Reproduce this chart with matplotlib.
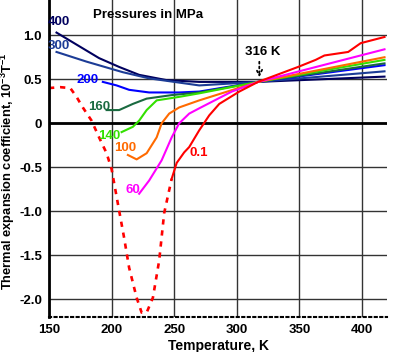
import matplotlib
matplotlib.use("Agg")
import matplotlib.pyplot as plt

plt.rcParams['font.family'] = ['Liberation Sans', 'DejaVu Sans']
plt.rcParams['font.weight'] = 'bold'
plt.rcParams['mathtext.fontset'] = 'custom'
plt.rcParams['mathtext.bf'] = 'Liberation Sans:bold'
plt.rcParams['mathtext.rm'] = 'Liberation Sans:bold'
plt.rcParams['mathtext.default'] = 'bf'

# curves: temperature (K), coefficient (10^-3 T^-1)
t_01_dash = [150, 159, 167, 172, 177, 184, 190, 196, 200, 206, 210, 214, 220, 224, 228,
             233, 238, 242, 248]
a_01_dash = [0.40, 0.41, 0.40, 0.30, 0.18, 0.03, -0.16, -0.34, -0.52, -0.99, -1.30, -1.64,
             -1.98, -2.15, -2.15, -1.98, -1.56, -1.02, -0.63]
t_01 = [248, 252, 258, 262, 270, 278, 286, 302, 317, 349, 363, 370, 389, 399, 418]
a_01 = [-0.63, -0.45, -0.33, -0.27, -0.08, 0.09, 0.22, 0.36, 0.47, 0.64, 0.72, 0.77, 0.81,
        0.91, 0.98]
t_60 = [222, 230, 240, 248, 254, 262, 270, 296, 317, 418]
a_60 = [-0.80, -0.65, -0.42, -0.16, 0.0, 0.11, 0.17, 0.36, 0.47, 0.84]
t_100 = [213, 220, 228, 236, 240, 246, 254, 270, 317, 418]
a_100 = [-0.36, -0.41, -0.34, -0.16, 0.0, 0.11, 0.18, 0.26, 0.47, 0.75]
t_140 = [208, 217, 222, 228, 236, 254, 270, 317, 418]
a_140 = [-0.10, -0.04, 0.03, 0.15, 0.26, 0.30, 0.34, 0.47, 0.72]
t_160 = [196, 206, 217, 228, 248, 270, 317, 418]
a_160 = [0.15, 0.15, 0.22, 0.28, 0.32, 0.35, 0.47, 0.68]
t_200 = [193, 204, 214, 230, 254, 270, 317, 418]
a_200 = [0.47, 0.43, 0.38, 0.35, 0.35, 0.36, 0.47, 0.66]
t_300 = [156, 180, 209, 230, 270, 317, 418]
a_300 = [0.81, 0.70, 0.58, 0.51, 0.43, 0.47, 0.59]
t_400 = [156, 190, 206, 222, 244, 270, 317, 418]
a_400 = [1.03, 0.74, 0.64, 0.55, 0.49, 0.47, 0.47, 0.53]

labels = ['400', '300', '200', '160', '140', '100', '60', '0.1']
label_t = [158, 158, 181, 190, 198, 211, 217, 270]
label_a = [1.15, 0.875, 0.49, 0.18, -0.15, -0.28, -0.76, -0.34]

colors = {'400': '#00005e', '300': '#1c3c96', '200': '#0000ff', '160': '#1a6a40',
          '140': '#33e000', '100': '#ff6a00', '60': '#ff00ff', '0.1': '#ff0000'}

fig = plt.figure(figsize=(4, 3.52), dpi=100)
ax = fig.add_axes([0.1225, 0.0994, 0.845, 0.9006])

ax.set_xlim(150, 420)
ax.set_ylim(-2.2, 1.4)
ax.set_xticks([150, 200, 250, 300, 350, 400])
ax.set_yticks([-2.0, -1.5, -1.0, -0.5, 0, 0.5, 1.0])
ax.set_yticklabels(['-2.0', '-1.5', '-1.0', '-0.5', '0', '0.5', '1.0'])
ax.grid(True, color='#333333', linewidth=1.0)
ax.axhline(0, color='black', linewidth=2)
ax.tick_params(length=0, labelsize=9.5, pad=5)
for s in ['top', 'right']:
    ax.spines[s].set_visible(False)
ax.spines['left'].set_linewidth(2)
ax.spines['bottom'].set_linestyle(':')
ax.spines['bottom'].set_linewidth(1.5)

lw = 1.5
ax.plot(t_400, a_400, color=colors['400'], lw=lw)
ax.plot(t_300, a_300, color=colors['300'], lw=lw)
ax.plot(t_200, a_200, color=colors['200'], lw=lw)
ax.plot(t_160, a_160, color=colors['160'], lw=lw)
ax.plot(t_140, a_140, color=colors['140'], lw=lw)
ax.plot(t_100, a_100, color=colors['100'], lw=lw)
ax.plot(t_60, a_60, color=colors['60'], lw=lw)
ax.plot(t_01, a_01, color=colors['0.1'], lw=lw)
ax.plot(t_01_dash, a_01_dash, color=colors['0.1'], lw=1.9, ls=(0, (2, 2.2)))

for lab, t, a in zip(labels, label_t, label_a):
    ax.text(t, a, lab, color=colors[lab], fontsize=9.5, fontweight='bold',
            ha='center', va='center')

ax.text(229, 1.23, 'Pressures in MPa', fontsize=9.5, fontweight='bold', ha='center', va='center')
ax.text(321, 0.81, '316 K', fontsize=9.5, fontweight='bold', ha='center', va='center')
ax.annotate('', xy=(318, 0.49), xytext=(318, 0.73),
            arrowprops=dict(arrowstyle='->', ls=':', lw=1.3, color='black'))

ax.set_xlabel('Temperature, K', fontsize=10, fontweight='bold', labelpad=2)
ax.set_ylabel('Thermal expansion coefficient, 10$^{-3}$T$^{-1}$',
              fontsize=9.3, fontweight='bold')
ax.yaxis.set_label_coords(-0.095, 0.46)

fig.savefig('out.png', dpi=100)
